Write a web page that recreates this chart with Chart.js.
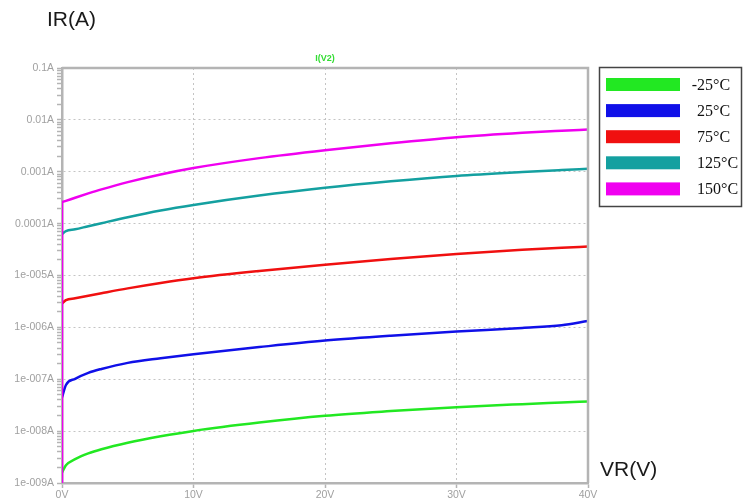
<!DOCTYPE html>
<html lang="en">
<head>
    <meta charset="UTF-8">
    <title>Reverse current vs reverse voltage</title>
    <script src="https://cdn.jsdelivr.net/npm/chart.js"></script>
    <style>
        html, body {
            margin: 0;
            padding: 0;
            background: #ffffff;
        }
        .chart-container {
            position: relative;
            width: 746px;
            height: 504px;
        }
    </style>
</head>
<body>
    <div class="chart-container">
        <canvas id="ivChart"></canvas>
    </div>

    <script>
        // Reverse voltage points (V)
        const voltages = [0, 0.3, 1, 2, 3, 5, 7.5, 10, 15, 20, 25, 30, 35, 38, 40];

        // Reverse current (A) per temperature
        const currentM25 = [1.58e-9, 2.19e-9, 2.88e-9, 3.72e-9, 4.47e-9, 5.96e-9, 7.94e-9, 1.01e-8, 1.46e-8, 1.97e-8, 2.43e-8, 2.90e-8, 3.31e-8, 3.55e-8, 3.72e-8];
        const current25 = [4.47e-8, 7.76e-8, 1.02e-7, 1.33e-7, 1.58e-7, 2.07e-7, 2.54e-7, 3.04e-7, 4.17e-7, 5.57e-7, 6.92e-7, 8.30e-7, 9.77e-7, 1.10e-6, 1.33e-6];
        const current75 = [2.88e-6, 3.35e-6, 3.63e-6, 4.07e-6, 4.55e-6, 5.65e-6, 7.19e-6, 8.85e-6, 1.22e-5, 1.61e-5, 2.07e-5, 2.61e-5, 3.14e-5, 3.44e-5, 3.61e-5];
        const current125 = [6.31e-5, 7.16e-5, 7.76e-5, 8.91e-5, 1.02e-4, 1.33e-4, 1.79e-4, 2.29e-4, 3.47e-4, 4.90e-4, 6.53e-4, 8.32e-4, 9.89e-4, 1.08e-3, 1.14e-3];
        const current150 = [2.60e-4, 2.75e-4, 3.16e-4, 3.82e-4, 4.57e-4, 6.31e-4, 8.87e-4, 1.18e-3, 1.83e-3, 2.60e-3, 3.53e-3, 4.62e-3, 5.62e-3, 6.17e-3, 6.53e-3];

        // vertical jump of the 150°C trace at 0 V
        const spike150V = [0, 0];
        const spike150I = [1e-9, 2.6e-4];

        const seriesLabels = ['-25°C', '25°C', '75°C', '125°C', '150°C'];
        const seriesColors = ['#22e822', '#1010e8', '#f01010', '#14a0a0', '#f000f0'];

        const xTickValues = [0, 10, 20, 30, 40];
        const xTickLabels = ['0V', '10V', '20V', '30V', '40V'];
        const yTickValues = [1e-9, 1e-8, 1e-7, 1e-6, 1e-5, 1e-4, 1e-3, 1e-2, 1e-1];
        const yTickLabels = ['1e-009A', '1e-008A', '1e-007A', '1e-006A', '1e-005A', '0.0001A', '0.001A', '0.01A', '0.1A'];
        const yMinorSteps = [2, 3, 4, 5, 6, 7, 8, 9];

        function toPoints(xs, ys) {
            return xs.map((x, i) => ({ x: x, y: ys[i] }));
        }

        function majorIndex(value) {
            return yTickValues.findIndex(v => Math.abs(v - value) / v < 1e-6);
        }

        // text, legend box and frame drawn on top of the chart
        const decorPlugin = {
            id: 'decor',
            afterDraw(chart) {
                const ctx = chart.ctx;
                const area = chart.chartArea;
                ctx.save();

                // frame top and right
                ctx.strokeStyle = '#b4b4b4';
                ctx.lineWidth = 2.5;
                ctx.beginPath();
                ctx.moveTo(area.left, area.top);
                ctx.lineTo(area.right, area.top);
                ctx.lineTo(area.right, area.bottom);
                ctx.stroke();

                // axis captions
                ctx.fillStyle = '#1a1a1a';
                ctx.font = '21px "Liberation Sans", Arial, sans-serif';
                ctx.textBaseline = 'middle';
                ctx.textAlign = 'left';
                ctx.fillText('IR(A)', 47, 20);
                ctx.fillText('VR(V)', 600, 470);

                // trace title
                ctx.fillStyle = '#33dd33';
                ctx.font = 'bold 9px "Liberation Sans", Arial, sans-serif';
                ctx.textAlign = 'center';
                ctx.fillText('I(V2)', 325, 59);

                // legend
                ctx.strokeStyle = '#444444';
                ctx.lineWidth = 1.5;
                ctx.strokeRect(599.5, 67.5, 142, 139);
                ctx.font = '16px "Liberation Serif", "Times New Roman", serif';
                ctx.textAlign = 'left';
                seriesLabels.forEach((label, i) => {
                    const cy = 84.5 + i * 26.1;
                    ctx.fillStyle = seriesColors[i];
                    ctx.fillRect(606, cy - 6.5, 74, 13);
                    ctx.fillStyle = '#111111';
                    let tx = 697;
                    if (label.startsWith('-')) tx -= ctx.measureText('-').width;
                    ctx.fillText(label, tx, cy + 1);
                });

                ctx.restore();
            }
        };

        function createChart() {
            const ctx = document.getElementById('ivChart').getContext('2d');

            const datasets = [
                { data: toPoints(spike150V, spike150I), borderColor: seriesColors[4], tension: 0 }
            ];
            const allCurrents = [currentM25, current25, current75, current125, current150];
            allCurrents.forEach((ys, i) => {
                datasets.push({
                    label: seriesLabels[i],
                    data: toPoints(voltages, ys),
                    borderColor: seriesColors[i],
                    cubicInterpolationMode: 'monotone'
                });
            });
            datasets.forEach(ds => {
                ds.borderWidth = 2.5;
                ds.pointRadius = 0;
                ds.fill = false;
            });

            new Chart(ctx, {
                type: 'line',
                data: { datasets: datasets },
                options: {
                    responsive: true,
                    maintainAspectRatio: false,
                    animation: false,
                    layout: {
                        padding: { top: 68, right: 158, left: 0, bottom: 0 }
                    },
                    plugins: {
                        legend: { display: false },
                        tooltip: { enabled: false },
                        title: { display: false }
                    },
                    scales: {
                        x: {
                            type: 'linear',
                            min: 0,
                            max: 40,
                            afterBuildTicks: scale => {
                                scale.ticks = xTickValues.map(v => ({ value: v }));
                            },
                            afterFit: scale => { scale.height = 21; },
                            ticks: {
                                callback: (value) => xTickLabels[xTickValues.indexOf(value)],
                                color: '#a0a0a0',
                                font: { family: '"Liberation Sans", Arial, sans-serif', size: 10.5 },
                                padding: 1,
                                maxRotation: 0
                            },
                            grid: {
                                color: '#c4c4c4',
                                lineWidth: 1,
                                tickLength: 5,
                                tickColor: '#b4b4b4',
                                tickWidth: 1.5
                            },
                            border: { color: '#b4b4b4', width: 2.5, dash: [2, 3] }
                        },
                        y: {
                            type: 'logarithmic',
                            min: 1e-9,
                            max: 0.1,
                            afterBuildTicks: scale => {
                                const ticks = [];
                                yTickValues.forEach((v, i) => {
                                    ticks.push({ value: v, major: true });
                                    if (i < yTickValues.length - 1) {
                                        yMinorSteps.forEach(s => ticks.push({ value: v * s, major: false }));
                                    }
                                });
                                scale.ticks = ticks;
                            },
                            afterFit: scale => { scale.width = 62; },
                            ticks: {
                                autoSkip: false,
                                callback: (value) => {
                                    const idx = majorIndex(value);
                                    return idx >= 0 ? yTickLabels[idx] : '';
                                },
                                color: '#a0a0a0',
                                font: { family: '"Liberation Sans", Arial, sans-serif', size: 10.5 },
                                padding: 3
                            },
                            grid: {
                                color: c => (c.tick && majorIndex(c.tick.value) >= 0) ? '#c4c4c4' : 'rgba(0,0,0,0)',
                                lineWidth: 1,
                                tickLength: 5,
                                tickColor: '#b4b4b4',
                                tickWidth: 1.5
                            },
                            border: { color: '#b4b4b4', width: 2.5, dash: [2, 3] }
                        }
                    }
                },
                plugins: [decorPlugin]
            });
        }

        window.addEventListener('load', createChart);
    </script>
</body>
</html>
